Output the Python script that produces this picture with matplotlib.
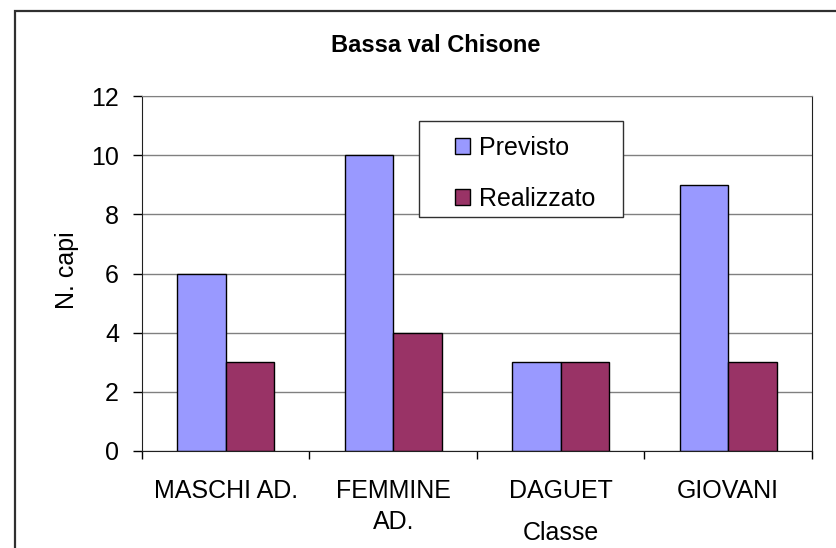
import numpy as np
import matplotlib
matplotlib.use("Agg")
import matplotlib.pyplot as plt
from matplotlib.patches import Rectangle

categories = ["MASCHI AD.", "FEMMINE\nAD.", "DAGUET", "GIOVANI"]
previsto = [6, 10, 3, 9]
realizzato = [3, 4, 3, 3]
series_names = ["Previsto", "Realizzato"]
yticks = [0, 2, 4, 6, 8, 10, 12]

W, H = 837, 548
plt.rcParams['font.family'] = ['Liberation Sans', 'DejaVu Sans']

fig = plt.figure(figsize=(W / 100, H / 100), dpi=100)

def px(x0, y_top, x1, y_bot):
    # pixel box (top-down) -> figure fraction rect
    return [x0 / W, 1 - y_bot / H, (x1 - x0) / W, (y_bot - y_top) / H]

# outer chart frame, cropped on the right and bottom like the source
fig.add_artist(Rectangle((15 / W, -0.1), 1.2, 1 - 11 / H + 0.1, transform=fig.transFigure,
                         fill=False, edgecolor='#303030', linewidth=1.6, zorder=0))

ax = fig.add_axes(px(142, 96, 812, 451))
x = np.arange(len(categories))
w = 0.29
ax.bar(x - w / 2, previsto, w, color='#9999FF', edgecolor='black', linewidth=1, zorder=2,
       label=series_names[0])
ax.bar(x + w / 2, realizzato, w, color='#993366', edgecolor='black', linewidth=1, zorder=2,
       label=series_names[1])

ax.set_xlim(-0.5, len(categories) - 0.5)
ax.set_ylim(0, 12)
ax.set_yticks(yticks)
ax.tick_params(axis='y', labelsize=18, length=6.5, pad=10, width=1)
ax.grid(axis='y', color='#808080', linewidth=1, zorder=0)

# category boundary ticks (major) and centered labels (minor)
ax.set_xticks(np.arange(len(categories) + 1) - 0.5)
ax.set_xticklabels([])
ax.set_xticks(x, minor=True)
ax.set_xticklabels(categories, minor=True, linespacing=1.38)
ax.tick_params(axis='x', which='major', length=5.5, width=1)
ax.tick_params(axis='x', which='minor', length=0, labelsize=18, pad=20)

for s in ['left', 'bottom', 'right']:
    ax.spines[s].set_color('#202020')
ax.spines['top'].set_color('#808080')

ax.set_xlabel("Classe", fontsize=18, va='baseline')
ax.xaxis.set_label_coords(0.625, -0.251)
ax.set_ylabel("N. capi", fontsize=18, va='center')
ax.yaxis.set_label_coords(-0.112, 0.51)

fig.text(436 / W, 1 - 45 / H, "Bassa val Chisone", fontsize=17, fontweight='bold',
         ha='center', va='center')

# legend box
fig.add_artist(Rectangle((419 / W, 1 - 217 / H), (623 - 419) / W, (217 - 121) / H,
                         transform=fig.transFigure, facecolor='white',
                         edgecolor='#303030', linewidth=1, zorder=3))
handles, labels = ax.get_legend_handles_labels()
fig.legend(handles, labels, loc='upper left', bbox_to_anchor=(455 / W, 1 - 136 / H),
           frameon=False, fontsize=18, borderpad=0, borderaxespad=0,
           handlelength=0.6, handleheight=0.6, handletextpad=0.36, labelspacing=1.08)

fig.savefig("out.png", dpi=100)
